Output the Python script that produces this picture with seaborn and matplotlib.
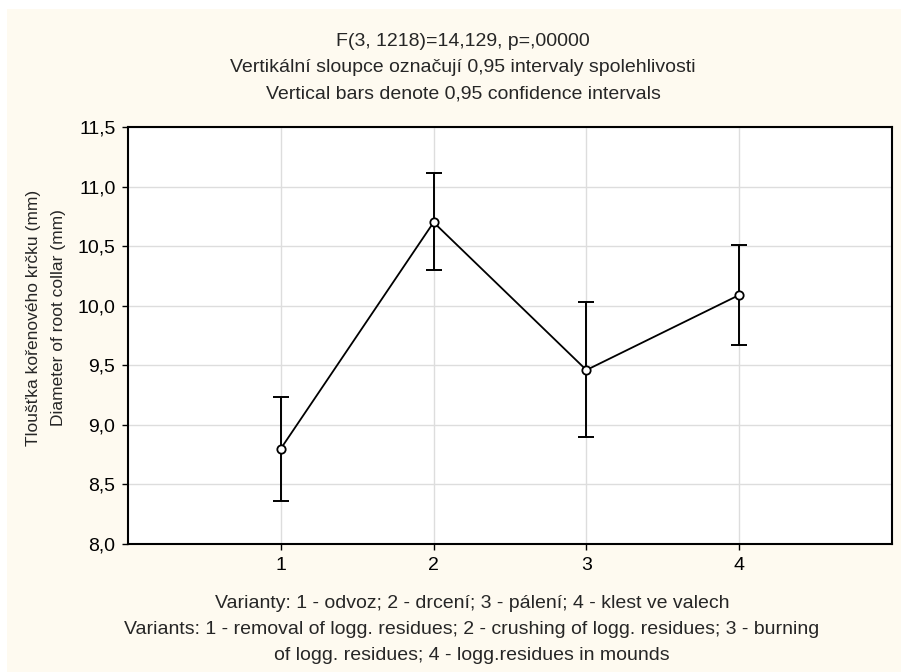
import matplotlib
matplotlib.use("Agg")
import matplotlib.pyplot as plt
import matplotlib.patches as mpatches
import seaborn as sns
import pandas as pd

# Group means and 0.95 confidence limits of root collar diameter
variants = [1, 2, 3, 4]
means = [8.80, 10.70, 9.46, 10.09]
ci_low = [8.36, 10.30, 8.90, 9.67]
ci_high = [9.23, 11.11, 10.03, 10.51]
y_ticks = [8.0, 8.5, 9.0, 9.5, 10.0, 10.5, 11.0, 11.5]
y_tick_labels = ["8,0", "8,5", "9,0", "9,5", "10,0", "10,5", "11,0", "11,5"]

title_lines = [
    "F(3, 1218)=14,129, p=,00000",
    "Vertikální sloupce označují 0,95 intervaly spolehlivosti",
    "Vertical bars denote 0,95 confidence intervals",
]
ylabel_lines = ["Tloušťka kořenového krčku (mm)", "Diameter of root collar (mm)"]
xlabel_lines = [
    "Varianty: 1 - odvoz; 2 - drcení; 3 - pálení; 4 - klest ve valech",
    "Variants: 1 - removal of logg. residues; 2 - crushing of logg. residues; 3 - burning",
    "of logg. residues; 4 - logg.residues in mounds",
]

df = pd.DataFrame({"variant": variants, "mean": means})

sns.set_theme(style="white")
plt.rcParams["font.family"] = ["Liberation Sans", "DejaVu Sans"]
FS = 14

W, H = 903, 672
fig = plt.figure(figsize=(W / 100, H / 100), dpi=100, facecolor="white")
cream = "#FEFAF0"
fig.patches.append(mpatches.Rectangle((7 / W, 0), 1 - 9 / W, 1 - 9 / H,
                                      transform=fig.transFigure, facecolor=cream,
                                      edgecolor="none", zorder=-10))

ax = fig.add_axes([128 / W, 1 - 544 / H, (892 - 128) / W, (544 - 127) / H])
ax.set_facecolor("white")

sns.lineplot(data=df, x="variant", y="mean", ax=ax, color="black", linewidth=1.3,
             marker="o", markersize=6, markerfacecolor="white",
             markeredgecolor="black", markeredgewidth=1.3, zorder=4)

yerr = [[m - lo for m, lo in zip(means, ci_low)],
        [hi - m for m, hi in zip(means, ci_high)]]
ax.errorbar(variants, means, yerr=yerr, fmt="none", ecolor="black",
            elinewidth=1.4, capsize=6, capthick=1.4, zorder=3)

ax.set_xlim(0, 5)
ax.set_ylim(8.0, 11.5)
ax.set_xticks(variants)
ax.set_xticklabels([str(v) for v in variants])
ax.set_yticks(y_ticks)
ax.set_yticklabels(y_tick_labels)
ax.grid(True, color="#DDDDDD", linewidth=1.0, zorder=0)
ax.set_axisbelow(True)
ax.tick_params(axis="both", labelsize=FS, colors="black", length=4, width=1,
               direction="out", left=True, bottom=True, pad=5)
for s in ax.spines.values():
    s.set_color("black")
    s.set_linewidth(1.5)
ax.set_xlabel("")
ax.set_ylabel("")

for txt, yp in zip(title_lines, [41, 68, 94]):
    fig.text(463 / W, 1 - yp / H, txt, ha="center", va="center", fontsize=FS)
for txt, yp in zip(xlabel_lines, [603, 630, 656]):
    fig.text(472 / W, 1 - yp / H, txt, ha="center", va="center", fontsize=FS)
for txt, xp in zip(ylabel_lines, [34, 59]):
    fig.text(xp / W, 1 - 318 / H, txt, ha="center", va="center", rotation=90,
             fontsize=12.5)

fig.savefig("out.png", dpi=100, facecolor="white")
